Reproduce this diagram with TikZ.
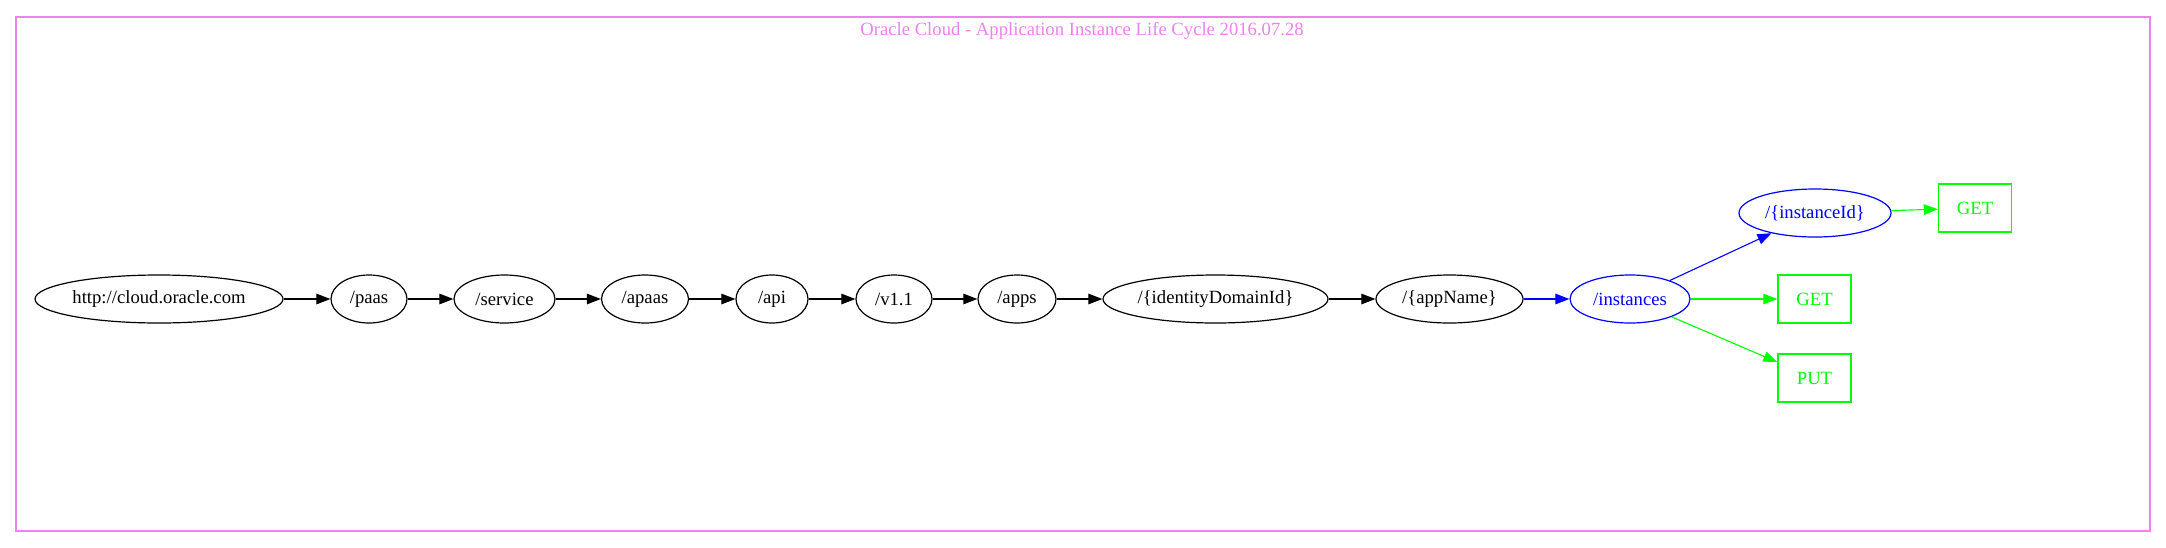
\documentclass[tikz,border=0pt]{standalone}
\usepackage{fontspec}
\setmainfont{Liberation Serif}
\usetikzlibrary{shapes.geometric,arrows.meta}
\definecolor{gvviolet}{HTML}{EE82EE}
\definecolor{gvgreen}{HTML}{00FF00}
\definecolor{gvblue}{HTML}{0000FF}
\tikzset{
  every node/.style={font=\fontsize{18.67}{22}\selectfont},
  ell/.style={draw, ellipse, line width=1.2pt, inner sep=0pt, minimum height=48pt},
  box/.style={draw=gvgreen, text=gvgreen, rectangle, line width=1.33pt, inner sep=0pt, minimum width=73pt, minimum height=48pt},
  conn/.style={line width=1.1pt, -{Triangle[length=14pt,width=10.5pt]}},
}
\begin{document}
\begin{tikzpicture}[x=1pt,y=-1pt]
\useasboundingbox (0,0) rectangle (2166,547);
\draw[gvviolet, line width=1.33pt] (16,17) rectangle (2150,531);
\node[text=gvviolet] (title) at (1082,31) {Oracle Cloud - Application Instance Life Cycle 2016.07.28};

\node[ell, minimum width=248pt] (root) at (159,299) {http://cloud.oracle.com};
\node[ell, minimum width=76pt] (paas) at (369,299) {/paas};
\node[ell, minimum width=101pt] (service) at (504.5,299) {/service};
\node[ell, minimum width=87pt] (apaas) at (645,299) {/apaas};
\node[ell, minimum width=72pt] (api) at (772,299) {/api};
\node[ell, minimum width=76pt] (v11) at (894,299) {/v1.1};
\node[ell, minimum width=78pt] (apps) at (1017,299) {/apps};
\node[ell, minimum width=225pt] (idd) at (1215.5,299) {/\{identityDomainId\}};
\node[ell, minimum width=147pt] (app) at (1449.5,299) {/\{appName\}};
\node[ell, draw=gvblue, text=gvblue, minimum width=120pt] (inst) at (1630,299) {/instances};
\node[ell, draw=gvblue, text=gvblue, minimum width=152pt] (iid) at (1815,213) {/\{instanceId\}};
\node[box] (get1) at (1975,208) {GET};
\node[box] (get2) at (1814.5,299) {GET};
\node[box] (put) at (1814.5,378) {PUT};

\draw[conn] (root) -- (paas);
\draw[conn] (paas) -- (service);
\draw[conn] (service) -- (apaas);
\draw[conn] (apaas) -- (api);
\draw[conn] (api) -- (v11);
\draw[conn] (v11) -- (apps);
\draw[conn] (apps) -- (idd);
\draw[conn] (idd) -- (app);
\draw[conn, gvblue] (app) -- (inst);
\draw[conn, gvblue] (inst) -- (iid);
\draw[conn, gvgreen] (iid) -- (get1);
\draw[conn, gvgreen] (inst) -- (get2);
\draw[conn, gvgreen] (inst) -- (put);
\end{tikzpicture}
\end{document}
